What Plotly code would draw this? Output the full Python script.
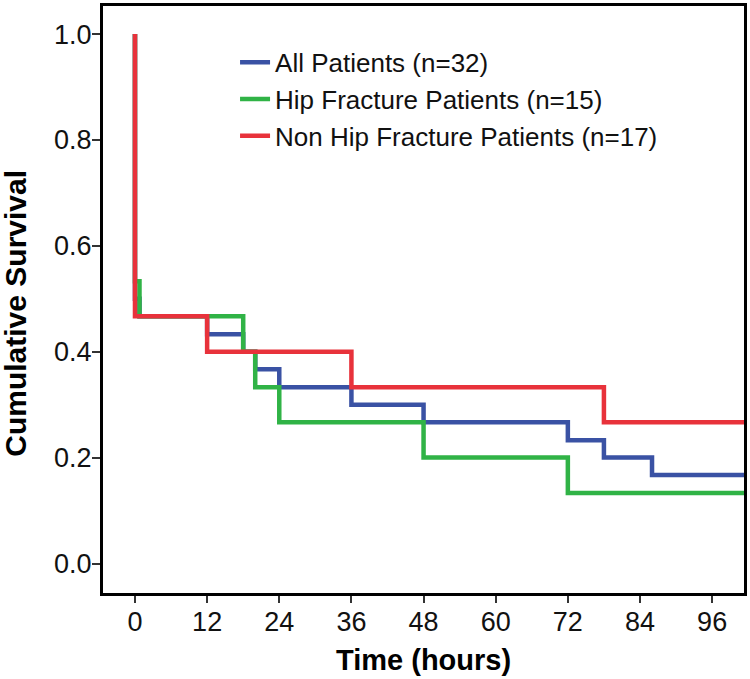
import plotly.graph_objects as go

# Kaplan-Meier step data (time in hours, cumulative survival)
all_t = [0, 0, 0.75, 12, 18, 20, 24, 36, 48, 72, 78, 86, 102]
all_s = [1.0, 0.5, 0.467, 0.433, 0.4, 0.367, 0.333, 0.3, 0.267, 0.233, 0.2, 0.167, 0.167]

hip_t = [0, 0, 0.75, 18, 20, 24, 48, 72, 102]
hip_s = [1.0, 0.533, 0.467, 0.4, 0.333, 0.267, 0.2, 0.133, 0.133]

non_t = [0, 0, 12, 36, 78, 102]
non_s = [1.0, 0.467, 0.4, 0.333, 0.267, 0.267]

names = ["All Patients (n=32)", "Hip Fracture Patients (n=15)", "Non Hip Fracture Patients (n=17)"]
colors = ["#3a52a4", "#30b346", "#e8323b"]

x_ticks = [0, 12, 24, 36, 48, 60, 72, 84, 96]
y_ticks = [0.0, 0.2, 0.4, 0.6, 0.8, 1.0]
y_ticklabels = ["0.0", "0.2", "0.4", "0.6", "0.8", "1.0"]

FONT = "Liberation Sans, Arial, sans-serif"

fig = go.Figure()
for i, (t, s) in enumerate([(all_t, all_s), (hip_t, hip_s), (non_t, non_s)]):
    fig.add_trace(go.Scatter(
        x=t, y=s, mode="lines", name=names[i],
        line=dict(shape="hv", color=colors[i], width=4.5),
    ))

fig.update_layout(
    width=750, height=679,
    margin=dict(l=103, r=6, t=6, b=86, autoexpand=False),
    paper_bgcolor="white", plot_bgcolor="white",
    font=dict(family=FONT, color="black"),
    showlegend=True,
    legend=dict(
        x=0.206, y=0.944, xanchor="left", yanchor="top",
        bgcolor="rgba(0,0,0,0)", font=dict(size=26, family=FONT, color="#111"),
    ),
    annotations=[
        dict(text="<b>Time (hours)</b>", xref="paper", yref="paper",
             x=(423 - 103) / 641, y=-(661 - 593.5) / 587.5, xanchor="center", yanchor="middle",
             showarrow=False, font=dict(size=29, family=FONT, color="black")),
        dict(text="<b>Cumulative Survival</b>", xref="paper", yref="paper",
             x=-(103 - 16) / 641, y=(593.5 - 314) / 587.5, xanchor="center", yanchor="middle",
             textangle=-90, showarrow=False, font=dict(size=30, family=FONT, color="black")),
    ],
)
fig.update_xaxes(
    range=[-5.32, 101.3], tickmode="array", tickvals=x_ticks,
    ticktext=[str(v) for v in x_ticks], automargin=False,
    showgrid=False, zeroline=False,
    showline=True, mirror=True, linecolor="black", linewidth=3,
    ticks="outside", ticklen=7, tickwidth=1.5, tickcolor="#333",
    ticklabelstandoff=-4,
    tickfont=dict(size=27, family=FONT, color="#111"),
)
fig.update_yaxes(
    range=[-0.0557, 1.053], tickmode="array", tickvals=y_ticks,
    ticktext=y_ticklabels, automargin=False,
    showgrid=False, zeroline=False,
    showline=True, mirror=True, linecolor="black", linewidth=3,
    ticks="outside", ticklen=8, tickwidth=1.5, tickcolor="#333",
    ticklabelstandoff=-5,
    tickfont=dict(size=27, family=FONT, color="#111"),
)

fig.write_html("out.html", config={"displayModeBar": False},
               post_script="document.body.style.margin='0px';document.body.style.padding='0px';")
